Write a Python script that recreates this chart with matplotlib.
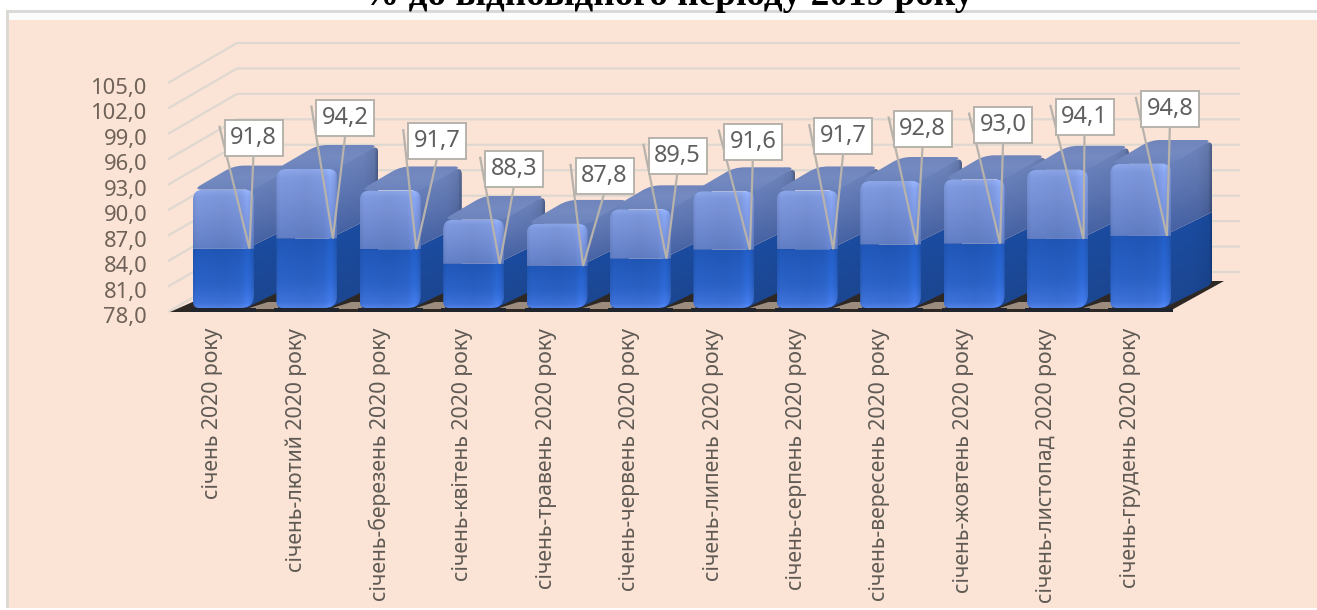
import numpy as np
import matplotlib
matplotlib.use("Agg")
import matplotlib.pyplot as plt
from matplotlib.path import Path
from matplotlib.patches import PathPatch, Rectangle, Polygon
from matplotlib.colors import to_rgb
from matplotlib.transforms import Affine2D

# ---------- data ----------
categories = ["січень 2020 року", "січень-лютий 2020 року", "січень-березень 2020 року",
              "січень-квітень 2020 року", "січень-травень 2020 року", "січень-червень 2020 року",
              "січень-липень 2020 року", "січень-серпень 2020 року", "січень-вересень 2020 року",
              "січень-жовтень 2020 року", "січень-листопад 2020 року", "січень-грудень 2020 року"]
values = [91.8, 94.2, 91.7, 88.3, 87.8, 89.5, 91.6, 91.7, 92.8, 93.0, 94.1, 94.8]
y_ticks = [78, 81, 84, 87, 90, 93, 96, 99, 102, 105]
title = "% до відповідного періоду 2019 року"

# ---------- layout (pixels of the 1317x610 picture) ----------
W, H = 1317, 610
AX_L, AX_R, AX_T, AX_B = 168, 1240, 83, 312
STEP = 83.4
X0 = 223.5                 # centre of the first bar's front face
PX_Y = (AX_B - AX_T) / 27  # pixels per value unit on the axis
FRONT_W = 61
DEPTH_X, DEPTH_Y = 41, 24
label_off_x = [4, 12.5, 21, 14.5, 21.5, 11, 3, 10, 6, 3, 1, 3]
label_off_y = [111, 121, 108, 95, 90, 103, 108, 113, 116, 119, 122, 127]

fig = plt.figure(figsize=(W / 100, H / 100), dpi=100, facecolor="white")

def figrect(x0, y0, x1, y1, color):
    fig.add_artist(Rectangle((x0 / W, 1 - y1 / H), (x1 - x0) / W, (y1 - y0) / H,
                             transform=fig.transFigure, facecolor=color, edgecolor="none"))

figrect(6, 10, W, 13, "#d9d9d7")
figrect(6, 10, 9, 608, "#dcd8d4")
figrect(9, 13, W, 20, "#fbfdfc")
figrect(9, 20, W, 608, "#fbe4d6")

fig.text(668 / W, 1 - 5 / H, title, family="Liberation Serif", weight="bold",
         fontsize=26.8, ha="center", va="baseline", color="black")

ax = fig.add_axes([AX_L / W, 1 - AX_B / H, (AX_R - AX_L) / W, (AX_B - AX_T) / H], zorder=5)
ax.patch.set_alpha(0)
x_lim = ((AX_L - X0) / STEP, (AX_R - X0) / STEP)
y_lim = (78, 105)
for s in ax.spines.values():
    s.set_visible(False)

UX = 1 / STEP   # data units per pixel
UY = 1 / PX_Y

# gridlines with their receding side wall
GRID = "#dfd8d0"
for t in y_ticks:
    ax.plot([x_lim[0], x_lim[0] + 69 * UX, x_lim[1]], [t, t + 40 * UY, t + 40 * UY],
            color=GRID, lw=1.6, clip_on=False, zorder=1, solid_capstyle="butt")

def px(xp, yp):
    return ((xp - X0) * UX, 78 + (AX_B - yp) * UY)

# floor
ax.add_patch(Polygon([px(170, 312), px(1168, 312), px(1224, 281), px(240, 281)],
                     closed=True, facecolor="#2e2824", edgecolor="none", zorder=2, clip_on=False))

def front_y(v):
    """front plane is closer to the viewer, so it has a slightly larger scale"""
    return 78 + 4 * UY + (v - 78) * 8.58 * UY

def rounded(verts, radii):
    """closed path with rounded corners; radii in pixels per corner"""
    p = np.array(verts, float) / [UX, UY]
    n = len(p)
    codes, out = [], []
    for k in range(n):
        a, b, c = p[k - 1], p[k], p[(k + 1) % n]
        r = radii[k]
        if r <= 0:
            out.append(b); codes.append(Path.LINETO if k else Path.MOVETO)
            continue
        d1 = (a - b) / np.linalg.norm(a - b)
        d2 = (c - b) / np.linalg.norm(c - b)
        out.append(b + d1 * r); codes.append(Path.LINETO if k else Path.MOVETO)
        out.append(b); codes.append(Path.CURVE3)
        out.append(b + d2 * r); codes.append(Path.CURVE3)
    out.append(out[0]); codes.append(Path.CLOSEPOLY)
    return Path(np.array(out) * [UX, UY], codes)

def grad(stops_y, stops_x=None, n=64):
    """stops_y: [(pos 0=top, colour)...]; stops_x: [(pos 0=left, factor)...]"""
    t = np.linspace(0, 1, n)
    pos = [s[0] for s in stops_y]
    cols = np.array([to_rgb(s[1]) for s in stops_y])
    img = np.stack([np.interp(t, pos, cols[:, c]) for c in range(3)], axis=1)[:, None, :]
    img = np.repeat(img, n, axis=1)
    if stops_x:
        f = np.interp(t, [s[0] for s in stops_x], [s[1] for s in stops_x])
        img = img * f[None, :, None]
    return np.clip(img, 0, 1)

def fill(path, img, z):
    v = path.vertices
    patch = PathPatch(path, facecolor="none", edgecolor="none", transform=ax.transData)
    ax.add_patch(patch)
    im = ax.imshow(img, extent=(v[:, 0].min(), v[:, 0].max(), v[:, 1].min(), v[:, 1].max()),
                   origin="upper", aspect="auto", interpolation="bilinear", zorder=z)
    im.set_clip_path(patch)

FRONT_X = [(0, .97), (.06, 1.03), (.5, 1.0), (.78, 1.03), (.9, 1.12), (.97, 1.04), (1, .95)]
dx, dy = DEPTH_X * UX, DEPTH_Y * UY
hw = FRONT_W / 2 * UX

for i, v in enumerate(values):
    z = 3 + i
    xl, xr = i - hw, i + hw
    y0, yt = front_y(78), front_y(v)
    ym = (y0 + yt) / 2
    # tan reflection on the floor in the gap to the right
    if i < len(values) - 1:
        ax.add_patch(Polygon([(xr - 8 * UX, y0 - 1.0 * UY), (xr + 24 * UX, y0 - 1.0 * UY),
                              (xr + 26 * UX, y0 + 6 * UY), (xr + 14 * UX, y0 + 6 * UY)],
                             closed=True, facecolor="#9c8c7e", edgecolor="none", zorder=z, clip_on=False))
    # shadow strip under the front face
    ax.add_patch(Rectangle((xl - 2 * UX, y0 - 4 * UY), 2 * hw + 4 * UX, 4 * UY,
                           facecolor="#20242c", edgecolor="none", zorder=z, clip_on=False))
    # lower side wall
    side_lo = rounded([(xr - 8 * UX, y0), (xr + dx, y0 + dy), (xr + dx, ym + dy), (xr - 8 * UX, ym)],
                      [0, 6, 0, 0])
    fill(side_lo, grad([(0, "#1b4ea6"), (1, "#1c4690")], [(0, 1), (.6, .98), (.95, .92), (1, .75)]), z)
    # upper side wall
    side_up = rounded([(xr - 8 * UX, ym), (xr + dx, ym + dy), (xr + dx, yt + dy), (xr - 8 * UX, yt)],
                      [0, 0, 8, 0])
    fill(side_up, grad([(0, "#6f85bb"), (.5, "#5a72ad"), (1, "#405c9c")],
                       [(0, 1.05), (.7, 1), (.93, .92), (1, .72)]), z)
    # top face
    top = rounded([(xl, yt), (xl + dx, yt + dy), (xr + dx, yt + dy), (xr, yt)], [9, 10, 8, 6])
    fill(top, grad([(0, "#7085bb"), (.5, "#748ac1"), (1, "#6c83bc")]), z)
    # lower front
    lo = rounded([(xl, y0), (xl, ym), (xr, ym), (xr, y0)], [6, 0, 0, 13])
    fill(lo, grad([(0, "#1f55b4"), (.6, "#2a60c2"), (.92, "#3c6fd4"), (1, "#4f7ee0")], FRONT_X), z + .1)
    # upper front
    up = rounded([(xl, ym), (xl, yt), (xr, yt), (xr, ym)], [0, 10, 9, 0])
    fill(up, grad([(0, "#8aa4e4"), (.12, "#7c96da"), (.4, "#758ed2"), (1, "#5f7bc0")], FRONT_X), z + .1)

# value labels with their wedge callouts
LINE = "#b7b3ac"
top_z = 30
for i, v in enumerate(values):
    ax_x = i + hw - 4.5 * UX
    ax_y = (front_y(78) + front_y(v)) / 2
    cx = ax_x + label_off_x[i] * UX
    cy = ax_y + label_off_y[i] * UY
    ax.plot([cx - 34 * UX, ax_x, cx], [cy + 11 * UY, ax_y, cy - 16 * UY], color=LINE, lw=1.6,
            zorder=top_z, clip_on=False, solid_joinstyle="miter")
    ax.add_patch(Rectangle((cx - 29 * UX, cy - 18 * UY), 58 * UX, 36 * UY, facecolor="white",
                           edgecolor=LINE, lw=1.4, zorder=top_z + 1, clip_on=False))
    ax.text(cx, cy, f"{v:.1f}".replace(".", ","), ha="center", va="center", fontsize=17,
            family="Noto Sans", color="#5f5f5f", zorder=top_z + 2)

ax.set_xlim(*x_lim)
ax.set_ylim(*y_lim)
ax.set_yticks(y_ticks, [f"{t},0" for t in y_ticks], family="Noto Sans", fontsize=15.8, color="#6f6258")
ax.tick_params(axis="y", length=0, pad=15)
ax.set_xticks(np.arange(len(categories)) - 0.13, categories, rotation=90, family="Noto Sans",
              fontsize=15.3, color="#5f5a54")
ax.tick_params(axis="x", length=0, pad=11.5)
for tick in ax.yaxis.get_major_ticks():
    tick.label1.set_transform(tick.label1.get_transform() + Affine2D().translate(0, -3))

fig.savefig("out.png", dpi=100)
